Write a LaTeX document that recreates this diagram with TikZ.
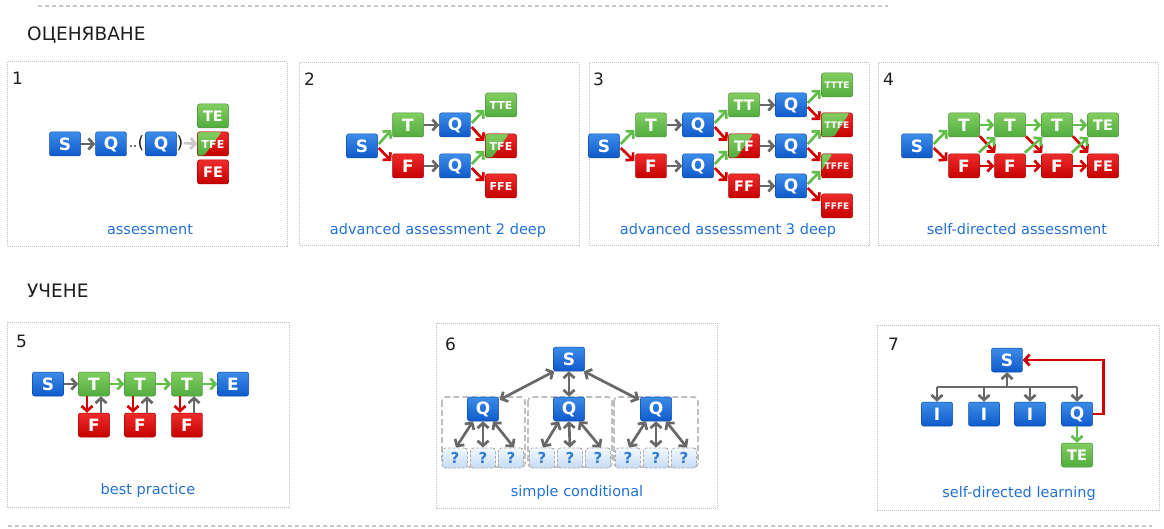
\documentclass[tikz,border=0pt]{standalone}
\usepackage{fontspec}
\setmainfont{DejaVu Sans}
\usetikzlibrary{arrows.meta,calc}

\definecolor{blueT}{RGB}{60,140,232}
\definecolor{blueB}{RGB}{14,90,202}
\definecolor{grnT}{RGB}{130,205,98}
\definecolor{grnB}{RGB}{82,172,62}
\definecolor{redT}{RGB}{238,44,44}
\definecolor{redB}{RGB}{198,0,0}
\definecolor{arrGray}{RGB}{104,104,104}
\definecolor{arrGreen}{RGB}{98,190,74}
\definecolor{arrRed}{RGB}{210,0,0}
\definecolor{arrLight}{RGB}{200,200,200}
\definecolor{capBlue}{RGB}{34,112,214}
\definecolor{frameGray}{RGB}{192,192,192}
\definecolor{rule}{RGB}{200,200,200}
\definecolor{qT}{RGB}{242,248,254}
\definecolor{qB}{RGB}{196,220,245}
\definecolor{qText}{RGB}{44,124,214}
\definecolor{ink}{RGB}{30,30,30}

\tikzset{
  box/.style={minimum width=31pt, minimum height=24pt, inner sep=0pt,
    rounded corners=2pt, text=white, line width=0.5pt,
    font=\bfseries\fontsize{17}{17}\selectfont},
  bbox/.style={box, top color=blueT, bottom color=blueB, draw=blueB!85!black},
  gbox/.style={box, top color=grnT, bottom color=grnB, draw=grnB!85!black},
  rbox/.style={box, top color=redT, bottom color=redB, draw=redB!85!black},
  split/.style 2 args={rbox, path picture={
    \shade[top color=grnT, bottom color=grnB]
      ($(path picture bounding box.north west)!#2!(path picture bounding box.north east)$)
      -- ($(path picture bounding box.south west)!#1!(path picture bounding box.south east)$)
      -- ($(path picture bounding box.south west)!-1!(path picture bounding box.south east)$)
      -- ($(path picture bounding box.north west)!-1!(path picture bounding box.north east)$)
      -- cycle;}},
  t2/.style={font=\bfseries\fontsize{14.5}{14.5}\selectfont},
  t3/.style={font=\bfseries\fontsize{11}{11}\selectfont},
  t4/.style={font=\bfseries\fontsize{9}{9}\selectfont},
  qbox/.style={minimum width=25pt, minimum height=20pt, inner sep=0pt,
    rounded corners=3pt, top color=qT, bottom color=qB, draw=black!32,
    line width=0.9pt, dash pattern=on 3pt off 1.5pt, text=qText,
    font=\bfseries\fontsize{15}{15}\selectfont},
  grp/.style={draw=black!25, line width=1.8pt, dash pattern=on 6pt off 3pt,
    rounded corners=4pt},
  panelframe/.style={draw=frameGray, line width=1pt, dash pattern=on 1pt off 1pt},
  toprule/.style={draw=rule, line width=1.2pt, dash pattern=on 4pt off 3pt},
  heading/.style={anchor=base west, inner sep=0pt, text=ink,
    font=\fontsize{18.5}{19}\selectfont},
  num/.style={anchor=base west, inner sep=0pt, text=ink,
    font=\fontsize{17}{18}\selectfont},
  captxt/.style={anchor=base, inner sep=0pt, text=capBlue,
    font=\fontsize{14.5}{16}\selectfont},
  tipshape/.style={-{Straight Barb[length=5pt,width=11pt]}},
  arrbase/.style={line width=2.7pt, tipshape},
  arrG/.style={arrbase, draw=arrGray},
  arrGn/.style={arrbase, draw=arrGreen},
  arrR/.style={arrbase, draw=arrRed},
  arrL/.style={arrbase, draw=arrLight},
  dbl/.style={line width=2.7pt, draw=arrGray,
    {Straight Barb[length=5pt,width=11pt]}-{Straight Barb[length=5pt,width=11pt]}},
  treebar/.style={line width=2.7pt, draw=arrGray},
}

% diagonal branch arrows: true goes up (green), false goes down (red)
\newcommand\gup[2]{\draw[arrGn] ($(#1.east)+(1,-2)$) -- ($(#2.west)+(-1,5)$);}
\newcommand\rdn[2]{\draw[arrR] ($(#1.east)+(1,2)$) -- ($(#2.west)+(-1,-5)$);}

\begin{document}
\begin{tikzpicture}[x=1pt, y=-1pt]
\useasboundingbox (0,0) rectangle (1164,529);

% separators
\draw[toprule] (38,6) -- (888,6);
\draw[toprule] (8,526) -- (1152,526);

% headings
\node[heading] (hA) at (27,41) {ОЦЕНЯВАНЕ};
\node[heading] (hB) at (27,298) {УЧЕНЕ};

% panel frames
\draw[panelframe] (7,62) rectangle (287,247);
\draw[panelframe] (299,63) rectangle (579,246);
\draw[panelframe] (589,63) rectangle (869,246);
\draw[panelframe] (878,63) rectangle (1158,246);
\draw[panelframe] (7,322) rectangle (289,507);
\draw[panelframe] (436,323) rectangle (717,508);
\draw[panelframe] (877,325) rectangle (1159,510);

% panel numbers
\node[num] (n1) at (12,85) {1};
\node[num] (n2) at (304,86) {2};
\node[num] (n3) at (593,86) {3};
\node[num] (n4) at (883,86) {4};
\node[num] (n5) at (16,347) {5};
\node[num] (n6) at (445,350) {6};
\node[num] (n7) at (888,350) {7};

% captions
\node[captxt] (c1) at (150,235) {assessment};
\node[captxt] (c2) at (438,235) {advanced assessment 2 deep};
\node[captxt] (c3) at (728,235) {advanced assessment 3 deep};
\node[captxt] (c4) at (1017,235) {self-directed assessment};
\node[captxt] (c5) at (148,494) {best practice};
\node[captxt] (c6) at (577,496) {simple conditional};
\node[captxt] (c7) at (1019,497) {self-directed learning};

% ---------- 1: assessment
\node[bbox] (a1s) at (65,144) {S};
\node[bbox] (a1q) at (111,144) {Q};
\node[bbox] (a1r) at (161,144) {Q};
\node[gbox,t2] (a1te) at (213,116) {TE};
\node[split={0.2}{0.78},t3] (a1tfe) at (213,144) {TFE};
\node[rbox,t2] (a1fe) at (213,172) {FE};
\draw[arrG] (a1s) -- (a1q);
\fill[ink!85] (131,146) circle (1.1) (135,146) circle (1.1);
\node[inner sep=0pt, text=ink, font=\fontsize{17}{17}\selectfont] (a1lp) at (141,143) {(};
\node[inner sep=0pt, text=ink, font=\fontsize{17}{17}\selectfont] (a1rp) at (180,143) {)};
\draw[arrL] (a1rp.east) -- (a1tfe.west);

% ---------- 2: advanced assessment 2 deep
\node[bbox] (b2s) at (362,146) {S};
\node[gbox] (b2t) at (408,125) {T};
\node[rbox] (b2f) at (408,166) {F};
\node[bbox] (b2q1) at (455,125) {Q};
\node[bbox] (b2q2) at (455,166) {Q};
\node[gbox,t3] (b2tte) at (501,105) {TTE};
\node[split={0.2}{0.75},t3] (b2tfe) at (501,146) {TFE};
\node[rbox,t3] (b2ffe) at (501,186) {FFE};
\gup{b2s}{b2t} \rdn{b2s}{b2f}
\draw[arrG] (b2t) -- (b2q1);
\draw[arrG] (b2f) -- (b2q2);
\gup{b2q1}{b2tte} \rdn{b2q1}{b2tfe}
\gup{b2q2}{b2tfe} \rdn{b2q2}{b2ffe}

% ---------- 3: advanced assessment 3 deep
\node[bbox] (c3s) at (604,146) {S};
\node[gbox] (c3t) at (651,125) {T};
\node[rbox] (c3f) at (651,166) {F};
\node[bbox] (c3q1) at (698,125) {Q};
\node[bbox] (c3q2) at (698,166) {Q};
\node[gbox,t2] (c3tt) at (744,105) {TT};
\node[split={0.25}{0.8},t2] (c3tf) at (744,146) {TF};
\node[rbox,t2] (c3ff) at (744,186) {FF};
\node[bbox] (c3r1) at (791,105) {Q};
\node[bbox] (c3r2) at (791,146) {Q};
\node[bbox] (c3r3) at (791,186) {Q};
\node[gbox,t4] (c3e1) at (837,85) {TTTE};
\node[split={0.4}{0.9},t4] (c3e2) at (837,125) {TTFE};
\node[split={-0.15}{0.35},t4] (c3e3) at (837,166) {TFFE};
\node[rbox,t4] (c3e4) at (837,206) {FFFE};
\gup{c3s}{c3t} \rdn{c3s}{c3f}
\draw[arrG] (c3t) -- (c3q1);
\draw[arrG] (c3f) -- (c3q2);
\gup{c3q1}{c3tt} \rdn{c3q1}{c3tf}
\gup{c3q2}{c3tf} \rdn{c3q2}{c3ff}
\draw[arrG] (c3tt) -- (c3r1);
\draw[arrG] (c3tf) -- (c3r2);
\draw[arrG] (c3ff) -- (c3r3);
\gup{c3r1}{c3e1} \rdn{c3r1}{c3e2}
\gup{c3r2}{c3e2} \rdn{c3r2}{c3e3}
\gup{c3r3}{c3e3} \rdn{c3r3}{c3e4}

% ---------- 4: self-directed assessment
\node[bbox] (d4s) at (917,146) {S};
\node[gbox] (d4t1) at (964,125) {T};
\node[gbox] (d4t2) at (1010,125) {T};
\node[gbox] (d4t3) at (1057,125) {T};
\node[gbox,t2] (d4te) at (1103,125) {TE};
\node[rbox] (d4f1) at (964,166) {F};
\node[rbox] (d4f2) at (1010,166) {F};
\node[rbox] (d4f3) at (1057,166) {F};
\node[rbox,t2] (d4fe) at (1103,166) {FE};
\gup{d4s}{d4t1} \rdn{d4s}{d4f1}
\draw[arrGn] (d4t1) -- (d4t2);
\draw[arrGn] (d4t2) -- (d4t3);
\draw[arrGn] (d4t3) -- (d4te);
\draw[arrR] (d4f1) -- (d4f2);
\draw[arrR] (d4f2) -- (d4f3);
\draw[arrR] (d4f3) -- (d4fe);
\foreach \a/\b in {1/2,2/3,3/e}{
  \draw[arrR] ($(d4t\a.south east)+(0,-1)$) -- ($(d4f\b.north west)+(1,-1)$);
  \draw[arrGn] ($(d4f\a.north east)+(-1,-1)$) -- ($(d4t\b.south west)+(1,0)$);
}

% ---------- 5: best practice
\node[bbox] (e5s) at (48,384) {S};
\node[gbox] (e5t1) at (94,384) {T};
\node[gbox] (e5t2) at (140,384) {T};
\node[gbox] (e5t3) at (187,384) {T};
\node[bbox] (e5e) at (233,384) {E};
\node[rbox] (e5f1) at (94,425) {F};
\node[rbox] (e5f2) at (140,425) {F};
\node[rbox] (e5f3) at (187,425) {F};
\draw[arrG] (e5s) -- (e5t1);
\draw[arrGn] (e5t1) -- (e5t2);
\draw[arrGn] (e5t2) -- (e5t3);
\draw[arrGn] (e5t3) -- (e5e);
\foreach \i in {1,2,3}{
  \draw[arrR] ($(e5t\i.south)+(-7,0)$) -- ($(e5f\i.north)+(-7,0)$);
  \draw[arrG] ($(e5f\i.north)+(7,0)$) -- ($(e5t\i.south)+(7,0)$);
}

% ---------- 6: simple conditional
\draw[grp] (442,397) rectangle (525,467);
\draw[grp] (528,397) rectangle (612,467);
\draw[grp] (614,397) rectangle (698,467);
\node[bbox] (f6s) at (569,359) {S};
\node[bbox] (f6q1) at (483,409) {Q};
\node[bbox] (f6q2) at (569,409) {Q};
\node[bbox] (f6q3) at (656,409) {Q};
\foreach \g/\x in {1/483,2/570,3/656}{
  \node[qbox] (f6a\g) at (\x-28,458) {?};
  \node[qbox] (f6b\g) at (\x,458) {?};
  \node[qbox] (f6c\g) at (\x+28,458) {?};
  \draw[dbl] ($(f6q\g.south)+(-10,0)$) -- ($(f6a\g.north)+(1,0)$);
  \draw[dbl] (f6q\g.south) -- (f6b\g.north);
  \draw[dbl] ($(f6q\g.south)+(10,0)$) -- ($(f6c\g.north)+(3,0)$);
}
\draw[dbl] ($(f6s.south west)+(1,0)$) -- ($(f6q1.north east)+(1,3)$);
\draw[dbl] (f6s) -- (f6q2);
\draw[dbl] ($(f6s.south east)+(-1,0)$) -- ($(f6q3.north west)+(-1,3)$);

% ---------- 7: self-directed learning
\node[bbox] (g7s) at (1007,360) {S};
\node[bbox] (g7i1) at (937,414) {I};
\node[bbox] (g7i2) at (984,414) {I};
\node[bbox] (g7i3) at (1030,414) {I};
\node[bbox] (g7q) at (1077,414) {Q};
\node[gbox,t2] (g7te) at (1077,455) {TE};
\coordinate (g7bar) at (1007,387);
\draw[treebar] (g7i1 |- g7bar) -- (g7q |- g7bar);
\foreach \n in {g7i1,g7i2,g7i3,g7q}{
  \draw[arrG] (\n |- g7bar) -- (\n.north);
}
\draw[arrG] (g7bar) -- (g7s.south);
\draw[arrR] (g7q.east) -- ++(11,0) |- (g7s.east);
\draw[arrGn] (g7q) -- (g7te);

\end{tikzpicture}
\end{document}
